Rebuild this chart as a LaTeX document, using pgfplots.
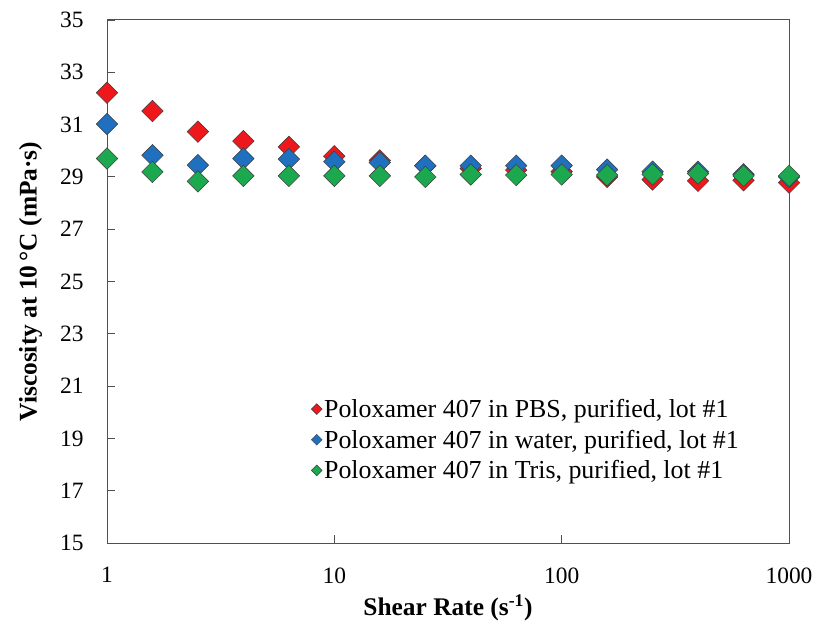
\documentclass[border=0pt]{standalone}
\usepackage{pgfplots}
\pgfplotsset{compat=1.18}
\usepackage{fontspec}
\setmainfont{Liberation Serif}
\definecolor{cred}{RGB}{238,24,28}
\definecolor{cblue}{RGB}{32,112,192}
\definecolor{cgreen}{RGB}{28,168,78}
\definecolor{cedge}{RGB}{60,60,60}
\definecolor{caxis}{RGB}{80,80,80}
\begin{document}
\begin{tikzpicture}
\begin{axis}[
  name=ax,
  scale only axis,
  width=682bp, height=523bp,
  xmode=log,
  xmin=1, xmax=1000,
  ymin=15, ymax=35,
  xtick={1,10,100,1000},
  xticklabels={1,10,100,1000},
  xminorticks=false,
  ytick={15,17,...,35},
  tick pos=left,
  tick align=inside,
  major tick length=8bp,
  axis line style={caxis, line width=1pt},
  every tick/.style={caxis, line width=0.8pt},
  /pgf/number format/assume math mode=true,
  tick label style={font=\fontsize{23.5}{23.5}\selectfont},
  yticklabel style={xshift=-20bp},
  xticklabel style={yshift=-21bp},
  xlabel={\textbf{Shear Rate (s\textsuperscript{-1})}},
  ylabel={\textbf{Viscosity at 10\,°C (mPa·s)}},
  label style={font=\fontsize{25.5}{25.5}\selectfont},
  xlabel style={yshift=-5bp},
  ylabel style={yshift=11bp},
  legend style={at={(0.295,0.283)}, anchor=north west, draw=none, fill=none,
    font=\fontsize{26}{30}\selectfont, row sep=7bp,
    /tikz/every even column/.append style={column sep=1bp}},
  legend cell align=left,
  legend image code/.code={\draw[#1, mark size=3.8bp] plot coordinates {(0bp,0bp)};},
]
\addplot[only marks, mark=square*, mark size=7.6bp,
    mark options={rotate=45, draw=cedge, line width=0.5pt, fill=cred}] coordinates {
(1,32.22) (1.585,31.52) (2.512,30.73) (3.981,30.37) (6.31,30.15) (10,29.79)
(15.85,29.63) (25.12,29.42) (39.81,29.32) (63.1,29.26) (100,29.2) (158.5,29.0)
(251.2,28.9) (398.1,28.85) (631,28.87) (1000,28.78)};
\addplot[only marks, mark=square*, mark size=7.6bp,
    mark options={rotate=45, draw=cedge, line width=0.5pt, fill=cblue}] coordinates {
(1,31.02) (1.585,29.83) (2.512,29.45) (3.981,29.70) (6.31,29.68) (10,29.58)
(15.85,29.55) (25.12,29.43) (39.81,29.43) (63.1,29.43) (100,29.43) (158.5,29.28)
(251.2,29.2) (398.1,29.2) (631,29.1) (1000,29.0)};
\addplot[only marks, mark=square*, mark size=7.6bp,
    mark options={rotate=45, draw=cedge, line width=0.5pt, fill=cgreen}] coordinates {
(1,29.70) (1.585,29.19) (2.512,28.83) (3.981,29.04) (6.31,29.04) (10,29.04)
(15.85,29.04) (25.12,29.0) (39.81,29.09) (63.1,29.07) (100,29.09) (158.5,29.07)
(251.2,29.1) (398.1,29.13) (631,29.04) (1000,29.04)};
\legend{{Poloxamer 407 in PBS, purified, lot \#1},
        {Poloxamer 407 in water, purified, lot \#1},
        {Poloxamer 407 in Tris, purified, lot \#1}}
\end{axis}
\path[use as bounding box] ([xshift=-107bp,yshift=-80bp]ax.south west) rectangle ([xshift=28bp,yshift=20bp]ax.north east);
\end{tikzpicture}
\end{document}
